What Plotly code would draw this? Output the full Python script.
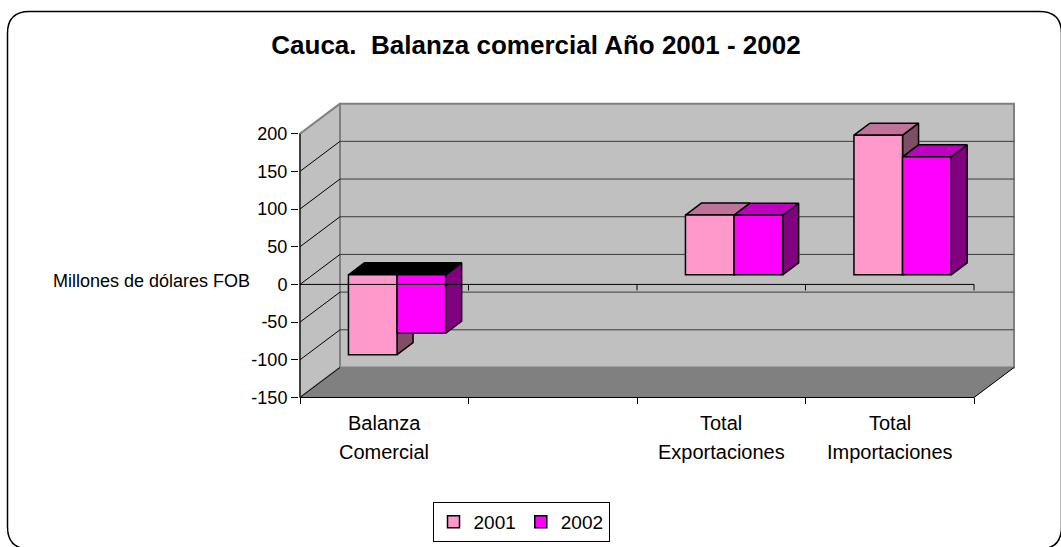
import plotly.graph_objects as go

# ---------------- data ----------------
categories = ["Balanza Comercial", "", "Total Exportaciones", "Total Importaciones"]
series_names = ["2001", "2002"]
values_2001 = [-106.0, None, 79.3, 185.3]
values_2002 = [-77.5, None, 79.0, 156.5]
y_ticks = [-150, -100, -50, 0, 50, 100, 150, 200]
y_tick_labels = ["-150", "-100", "-50", "0", "50", "100", "150", "200"]
title_text = "Cauca.\u00a0 Balanza comercial Año 2001 - 2002"
y_title = "Millones de dólares FOB"

# ---------------- style ----------------
front_colors = ["#FF99CC", "#FF00FF"]
top_colors = ["#C0739A", "#C000C0"]
side_colors = ["#804D66", "#800080"]
FONT = "Arial, Liberation Sans, sans-serif"

W, H = 1061, 547
ML, MR, MT, MB = 299, 43, 102, 148
plot_w = W - ML - MR
plot_h = H - MT - MB
cat_px = 168.5
x_lo = -1.0 / cat_px
x_hi = x_lo + plot_w / cat_px
y_lo, y_hi = -152, 242
ypx = plot_h / (y_hi - y_lo)

ncat = len(categories)
DX = 40 / cat_px          # full depth, x units
DY = 30 / ypx             # full depth, y units
dxf, dyf = 0.32 * DX, 0.32 * DY   # bar front-face depth
ddx, ddy = 0.40 * DX, 0.40 * DY   # bar depth
bw = 48.6 / cat_px
ymin, ymax = y_ticks[0], y_ticks[-1]

fig = go.Figure()

def poly(xs, ys, fill, line_color, lw, xa="x", ya="y"):
    fig.add_trace(go.Scatter(x=xs, y=ys, mode="lines", fill="toself", fillcolor=fill,
                             line=dict(color=line_color, width=lw), showlegend=False,
                             hoverinfo="skip", xaxis=xa, yaxis=ya))

def lines(xs, ys, color, lw, xa="x", ya="y"):
    fig.add_trace(go.Scatter(x=xs, y=ys, mode="lines", line=dict(color=color, width=lw),
                             showlegend=False, hoverinfo="skip", xaxis=xa, yaxis=ya))

# walls
poly([0, DX, DX, 0, 0], [ymin, ymin + DY, ymax + DY, ymax, ymin], "#C0C0C0", "#808080", 2)
poly([DX, ncat + DX, ncat + DX, DX, DX],
     [ymin + DY, ymin + DY, ymax + DY, ymax + DY, ymin + DY], "#C0C0C0", "#808080", 2)
# floor
poly([0, ncat, ncat + DX, DX, 0], [ymin, ymin, ymin + DY, ymin + DY, ymin], "#808080", "#808080", 0.5)
lines([0, ncat, ncat + DX], [ymin, ymin, ymin + DY], "black", 1)

# gridlines on back wall and left wall
gx, gy = [], []
for v in y_ticks[1:-1]:
    gx += [DX, ncat + DX, None]
    gy += [v + DY, v + DY, None]
lines(gx, gy, "#3a3a3a", 1)
dxs, dys = [], []
for v in y_ticks[:-1]:
    dxs += [0, DX, None]
    dys += [v, v + DY, None]
lines(dxs, dys, "black", 1)
# front value axis line
lines([0, 0], [ymin, ymax], "black", 1)

# bar side and top faces
all_vals = [values_2001, values_2002]
for s, vals in enumerate(all_vals):
    for i, v in enumerate(vals):
        if v is None:
            continue
        L = i + 0.5 + dxf - bw + s * bw
        R = L + bw
        b = dyf
        t = b + v
        poly([R, R, R + ddx, R + ddx, R], [b, t, t + ddy, b + ddy, b], side_colors[s], "black", 1.5)
        lvl = t if v >= 0 else b
        tc = top_colors[s] if v >= 0 else "black"
        poly([L, R, R + ddx, L + ddx, L], [lvl, lvl, lvl + ddy, lvl + ddy, lvl], tc, "black", 1.5)

# bar front faces (overlay axes so they sit above the depth faces)
for s, vals in enumerate(all_vals):
    xs = [i + 0.5 + dxf - bw + s * bw + bw / 2 for i in range(ncat)]
    fig.add_trace(go.Bar(x=xs, y=vals, base=dyf, width=bw, name=series_names[s],
                         marker=dict(color=front_colors[s], line=dict(color="black", width=1.5)),
                         xaxis="x2", yaxis="y2", hoverinfo="skip"))

# category (zero) axis line in front
tick_units = 6 / ypx
zx, zy = [0, ncat, None], [0, 0, None]
for k in range(1, ncat + 1):
    zx += [k, k, None]
    zy += [0, -tick_units, None]
lines(zx, zy, "black", 1, "x2", "y2")

# category labels
annotations = []
for i, cat in enumerate(categories):
    for j, line in enumerate(cat.split(" ") if cat else []):
        py = 423 + 29 * j
        annotations.append(dict(text=line, x=i + 0.5, xref="x", y=1 - (py - MT) / plot_h,
                                yref="paper", showarrow=False, xanchor="center", yanchor="middle",
                                font=dict(family=FONT, size=20, color="black")))
annotations.append(dict(text=y_title, x=(252 - ML) / plot_w, xref="paper", y=4, yref="y",
                        xanchor="right", yanchor="middle", showarrow=False,
                        font=dict(family=FONT, size=18, color="black")))

def pxp(px, py):
    return (px - ML) / plot_w, 1 - (py - MT) / plot_h

l, r, t, btm, rad = 7.5, 1061.5, 11.5, 549, 22
def P(px, py):
    a, c = pxp(px, py)
    return f"{a:.5f},{c:.5f}"
path = (f"M{P(l+rad,t)} L{P(r-rad,t)} Q{P(r,t)} {P(r,t+rad)} L{P(r,btm-rad)} Q{P(r,btm)} {P(r-rad,btm)} "
        f"L{P(l+rad,btm)} Q{P(l,btm)} {P(l,btm-rad)} L{P(l,t+rad)} Q{P(l,t)} {P(l+rad,t)} Z")

fig.update_layout(
    width=W, height=H,
    margin=dict(l=ML, r=MR, t=MT, b=MB, autoexpand=False),
    paper_bgcolor="white", plot_bgcolor="rgba(0,0,0,0)",
    barmode="overlay",
    showlegend=True,
    title=dict(text=title_text, x=536 / W, xref="container", y=1 - 45 / H, yref="container",
               xanchor="center", yanchor="middle",
               font=dict(family=FONT, size=26, color="black", weight="bold")),
    xaxis=dict(range=[x_lo, x_hi], showgrid=False, zeroline=False, showline=False,
               tickvals=list(range(ncat + 1)), ticks="outside", ticklen=6, tickcolor="black",
               showticklabels=False, anchor="free", position=(ymin - y_lo) / (y_hi - y_lo),
               automargin=False),
    yaxis=dict(range=[y_lo, y_hi], showgrid=False, zeroline=False, showline=False,
               tickvals=y_ticks, ticktext=y_tick_labels, ticks="outside", ticklen=7,
               tickcolor="black", tickfont=dict(family=FONT, size=18, color="black"),
               automargin=False),
    xaxis2=dict(range=[x_lo, x_hi], overlaying="x", visible=False, anchor="y2"),
    yaxis2=dict(range=[y_lo, y_hi], overlaying="y", visible=False, anchor="x2"),
    legend=dict(orientation="h", x=(521 - ML) / plot_w, xanchor="center",
                y=1 - (522 - MT) / plot_h, yanchor="middle",
                bordercolor="black", borderwidth=1, bgcolor="white",
                font=dict(family=FONT, size=19, color="black"), itemclick=False,
                itemwidth=30),
    annotations=annotations,
    shapes=[dict(type="path", path=path, xref="paper", yref="paper",
                 line=dict(color="black", width=1.5), layer="above")],
)

fig.write_html("out.html", config={"displayModeBar": False},
               post_script="document.body.style.margin='0';document.body.style.overflow='hidden';")
